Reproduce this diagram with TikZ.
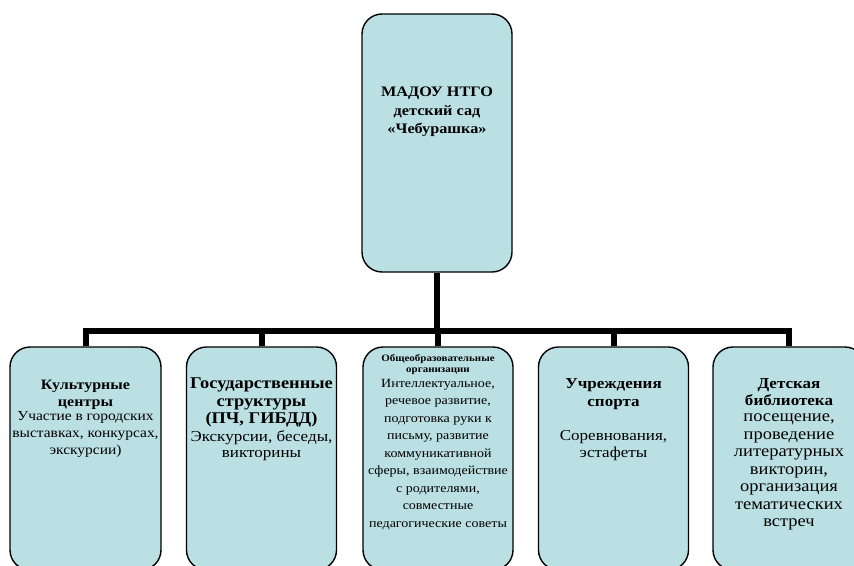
\documentclass[tikz,border=0pt]{standalone}
\usepackage{fontspec}
\setmainfont{Liberation Serif}[FakeStretch=1.12]
\definecolor{boxfill}{RGB}{187,224,227}
\tikzset{
  box/.style={draw=black, line width=1.4pt, fill=boxfill, rounded corners=20pt, inner sep=0pt},
  conn/.style={draw=black, line width=6pt},
  txt/.style={align=center, inner sep=0pt, anchor=north},
}
\newcommand{\fs}[2]{\fontsize{#1}{#2}\selectfont}
\begin{document}
\begin{tikzpicture}[x=1pt,y=-1pt]
\useasboundingbox (0,0) rectangle (854,565);
\coordinate (bar) at (437,331);
% boxes
\node[box, minimum width=150pt, minimum height=258pt] (top) at (437,143) {};
\node[box, minimum width=151pt, minimum height=223pt] (b1) at (85.5,458.5) {};
\node[box, minimum width=150pt, minimum height=223pt] (b2) at (261.5,458.5) {};
\node[box, minimum width=150pt, minimum height=223pt] (b3) at (438,458.5) {};
\node[box, minimum width=150pt, minimum height=223pt] (b4) at (613.5,458.5) {};
\node[box, minimum width=152pt, minimum height=223pt] (b5) at (789,458.5) {};
% connectors
\draw[conn] (top.south) -- (bar);
\draw[conn] (b1.north) |- (bar) -| (b5.north);
\draw[conn] (b2.north) -- (b2.north |- bar);
\draw[conn] (b3.north) -- (b3.north |- bar);
\draw[conn] (b4.north) -- (b4.north |- bar);
% texts
\node[txt, font=\fs{14.5}{18.5}\bfseries] (t0) at (437,87.1) {МАДОУ НТГО\\детский сад\\«Чебурашка»};
\node[txt, font=\fs{14.3}{17}\bfseries] (h1) at (85.5,380.1) {Культурные\\центры};
\node[txt, font=\fs{13.8}{17}] (d1) at (85.5,411.7) {Участие в городских\\выставках, конкурсах,\\экскурсии)};
\node[txt, font=\fs{16.4}{17.5}\bfseries] (h2) at (261.5,377.7) {Государственные\\структуры\\(ПЧ, ГИБДД)};
\node[txt, font=\fs{15.2}{16.5}] (d2) at (261.5,430.4) {Экскурсии, беседы,\\викторины};
\node[txt, font=\fs{9.8}{11}\bfseries] (h3) at (438,354) {Общеобразовательные\\организации};
\node[txt, font=\fs{12.5}{17.5}] (d3) at (438,378.9) {Интеллектуальное,\\речевое развитие,\\подготовка руки к\\письму, развитие\\коммуникативной\\сферы, взаимодействие\\с родителями,\\совместные\\педагогические советы};
\node[txt, font=\fs{15.2}{18}\bfseries] (h4) at (613.5,378) {Учреждения\\спорта};
\node[txt, font=\fs{15.2}{17}] (d4) at (613.5,430.4) {Соревнования,\\эстафеты};
\node[txt, font=\fs{15.2}{17.5}\bfseries] (h5) at (789,378) {Детская\\библиотека};
\node[txt, font=\fs{16.5}{17.5}] (d5) at (789,413.7) {посещение,\\проведение\\литературных\\викторин,\\организация\\тематических\\встреч};
\end{tikzpicture}
\end{document}
